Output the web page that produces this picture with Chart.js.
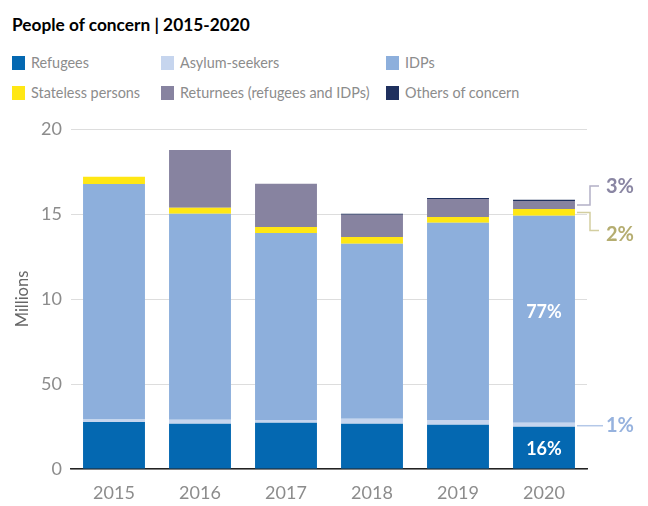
<!DOCTYPE html>
<html>
<head>
<meta charset="utf-8">
<script src="https://cdn.jsdelivr.net/npm/chart.js@4.4.1/dist/chart.umd.min.js"></script>
<style>
  html, body { margin: 0; padding: 0; background: #fff; }
  body { width: 648px; height: 506px; position: relative; overflow: hidden; font-family: Lato, "Open Sans", sans-serif; }
  #titre { position: absolute; left: 12px; top: 14px; font-size: 17.3px; font-weight: 700; color: #000; }
  .leg { position: absolute; font-size: 14.4px; color: #8c8c8c; white-space: nowrap; line-height: 18px; }
  .leg i { position: absolute; left: -19px; top: 2px; width: 13px; height: 14px; }
  #zone { position: absolute; left: 0; top: 0; width: 648px; height: 506px; }
</style>
</head>
<body>
<div id="titre">People of concern | 2015-2020</div>
<div id="legende"></div>
<div id="zone"><canvas id="graphe"></canvas></div>
<script>
// Données (millions)
const years = ['2015', '2016', '2017', '2018', '2019', '2020'];
const refugees = [2.76, 2.66, 2.72, 2.66, 2.61, 2.49];
const asylumSeekers = [0.15, 0.24, 0.16, 0.30, 0.27, 0.23];
const idps = [13.86, 12.12, 11.00, 10.29, 11.61, 12.18];
const stateless = [0.42, 0.35, 0.36, 0.40, 0.33, 0.39];
const returnees = [0, 3.39, 2.54, 1.31, 1.06, 0.47];
const others = [0, 0, 0, 0.06, 0.06, 0.08];
const yTickValues = [0, 5, 10, 15, 20];
const yTickLabels = ['0', '50', '10', '15', '20'];

const series = [
    { label: 'Refugees', data: refugees, color: '#0468b1' },
    { label: 'Asylum-seekers', data: asylumSeekers, color: '#c6d5ee' },
    { label: 'IDPs', data: idps, color: '#8dafdc' },
    { label: 'Stateless persons', data: stateless, color: '#ffe714' },
    { label: 'Returnees (refugees and IDPs)', data: returnees, color: '#8783a0' },
    { label: 'Others of concern', data: others, color: '#1f305e' },
];

// légende HTML : deux lignes, trois colonnes
const legPos = [[31, 54], [180, 54], [405, 54], [31, 84], [180, 84], [405, 84]];
const legende = document.getElementById('legende');
series.forEach((s, i) => {
    const d = document.createElement('div');
    d.className = 'leg';
    d.style.left = legPos[i][0] + 'px';
    d.style.top = legPos[i][1] + 'px';
    d.innerHTML = '<i style="background:' + s.color + '"></i>' + s.label;
    legende.appendChild(d);
});

// annotations de 2020 (pourcentages)
const annotations2020 = {
    id: 'annotations2020',
    afterDatasetsDraw(chart) {
        const ctx = chart.ctx;
        const idx = years.length - 1;
        const bar = (d) => chart.getDatasetMeta(d).data[idx];
        const mid = (d) => { const b = bar(d); return (b.y + b.base) / 2; };
        const right = bar(0).x + bar(0).width / 2 + 2;
        const cx = bar(0).x;

        ctx.save();
        ctx.textBaseline = 'middle';
        ctx.font = '700 18px Lato, "Open Sans", sans-serif';
        ctx.fillStyle = '#fff';
        ctx.textAlign = 'center';
        ctx.fillText('77%', cx, mid(2) - 7);
        ctx.fillText('16%', cx, mid(0) + 2);

        ctx.textAlign = 'left';
        ctx.font = '700 20px Lato, "Open Sans", sans-serif';
        ctx.lineWidth = 1.5;

        // 3% returnees
        let y = mid(4);
        ctx.strokeStyle = '#b3b0c6';
        ctx.beginPath();
        ctx.moveTo(right, y); ctx.lineTo(590, y); ctx.lineTo(590, y - 19); ctx.lineTo(599, y - 19);
        ctx.stroke();
        ctx.fillStyle = '#8a86a3';
        ctx.fillText('3%', 606, y - 19);

        // 2% stateless
        y = mid(3);
        ctx.strokeStyle = '#d3cea0';
        ctx.beginPath();
        ctx.moveTo(right, y); ctx.lineTo(590, y); ctx.lineTo(590, y + 18); ctx.lineTo(599, y + 18);
        ctx.stroke();
        ctx.fillStyle = '#b5ad70';
        ctx.fillText('2%', 606, y + 22);

        // 1% asylum-seekers
        y = mid(1) + 1;
        ctx.strokeStyle = '#b4c8e8';
        ctx.beginPath();
        ctx.moveTo(right, y); ctx.lineTo(603, y);
        ctx.stroke();
        ctx.fillStyle = '#96b2de';
        ctx.fillText('1%', 606, y);
        ctx.restore();
    },
};

new Chart(document.getElementById('graphe'), {
    type: 'bar',
    data: {
        labels: years,
        datasets: series.map(s => ({
            label: s.label,
            data: s.data,
            backgroundColor: s.color,
            borderWidth: 0,
            barPercentage: 0.72,
            categoryPercentage: 1,
        })),
    },
    plugins: [annotations2020],
    options: {
        responsive: true,
        maintainAspectRatio: false,
        animation: false,
        layout: { padding: { top: 129, right: 61, left: 0, bottom: 0 } },
        plugins: { legend: { display: false }, tooltip: { enabled: false } },
        scales: {
            x: {
                stacked: true,
                grid: { display: false },
                border: { display: true, color: '#222', width: 1.5 },
                ticks: { color: '#8c8c8c', font: { family: 'Lato', size: 18 }, padding: 5 },
                afterFit(scale) { scale.height = 37; },
            },
            y: {
                stacked: true,
                min: 0,
                max: 20,
                afterBuildTicks(scale) { scale.ticks = yTickValues.map(v => ({ value: v })); },
                grid: { color: '#dddddd', drawTicks: false },
                border: { display: false },
                ticks: {
                    color: '#8c8c8c',
                    font: { family: 'Lato', size: 18 },
                    padding: 9,
                    callback: (v) => yTickLabels[yTickValues.indexOf(v)],
                },
                title: {
                    display: true,
                    text: 'Millions',
                    color: '#666',
                    font: { family: 'Lato', size: 16.5 },
                    padding: { top: 13, bottom: 0 },
                },
                afterFit(scale) { scale.width = 71; },
            },
        },
    },
});
</script>
</body>
</html>
